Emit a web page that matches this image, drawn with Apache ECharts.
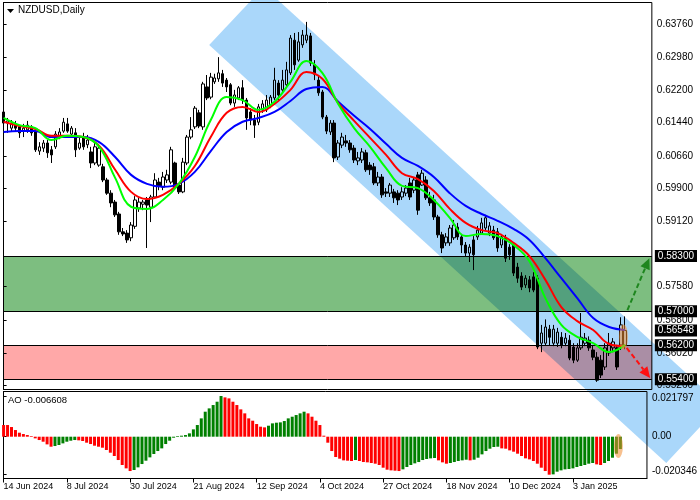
<!DOCTYPE html>
<html><head><meta charset="utf-8">
<script src="https://cdn.jsdelivr.net/npm/echarts@6/dist/echarts.min.js"></script>
<style>html,body{margin:0;padding:0;background:#fff}#c{width:700px;height:500px}</style>
</head><body><div id="c"></div>
<script>
// ---------- data ----------
const dateTickIdx = [0,16,32,48,64,80,96,112,128,144];
const dateLabels = ['14 Jun 2024','8 Jul 2024','30 Jul 2024','21 Aug 2024','12 Sep 2024','4 Oct 2024','27 Oct 2024','18 Nov 2024','10 Dec 2024','3 Jan 2025'];
const priceTicks = [0.6376,0.6298,0.6220,0.6144,0.6066,0.5990,0.5912,0.5758,0.5680,0.5602,0.5526];
const levelLines = [0.583,0.570,0.562,0.554];
const levelLabels = [0.583,0.570,0.56548,0.562,0.554];
const greenZone = [0.570,0.583];
const redZone = [0.554,0.562];
const aoTicks = [0.021797,0,-0.020346];
const aoName = 'AO -0.006608';
const title = 'NZDUSD,Daily';

// [open, close, low, high]
const candles = [
[0.6169,0.6143,0.6138,0.6174],[0.6143,0.6148,0.6120,0.6155],[0.6131,0.6143,0.6122,0.6150],[0.6141,0.6131,0.6124,0.6148],
[0.6134,0.6120,0.6108,0.6138],[0.6124,0.6131,0.6110,0.6141],[0.6127,0.6138,0.6120,0.6148],[0.6134,0.6120,0.6113,0.6138],
[0.6122,0.6080,0.6075,0.6131],[0.6077,0.6087,0.6068,0.6098],[0.6084,0.6096,0.6075,0.6103],[0.6096,0.6073,0.6061,0.6103],
[0.6080,0.6068,0.6049,0.6089],[0.6087,0.6117,0.6082,0.6124],[0.6110,0.6122,0.6105,0.6131],[0.6124,0.6145,0.6120,0.6155],
[0.6141,0.6124,0.6120,0.6155],[0.6117,0.6131,0.6110,0.6136],[0.6120,0.6080,0.6063,0.6131],[0.6084,0.6096,0.6080,0.6108],
[0.6110,0.6087,0.6080,0.6120],[0.6092,0.6103,0.6084,0.6115],[0.6075,0.6049,0.6037,0.6087],[0.6049,0.6087,0.6044,0.6098],
[0.6044,0.6084,0.6040,0.6094],[0.6040,0.6009,0.6004,0.6047],[0.6009,0.5978,0.5974,0.6014],[0.5978,0.5955,0.5945,0.5985],
[0.5957,0.5927,0.5922,0.5962],[0.5929,0.5887,0.5880,0.5934],[0.5887,0.5882,0.5877,0.5896],[0.5884,0.5868,0.5861,0.5891],
[0.5873,0.5903,0.5865,0.5910],[0.5900,0.5962,0.5894,0.5971],[0.5943,0.5957,0.5934,0.5967],[0.5952,0.5957,0.5938,0.5962],
[0.5962,0.5950,0.5849,0.5969],[0.5945,0.5969,0.5910,0.5974],[0.5969,0.6009,0.5967,0.6025],[0.6004,0.5995,0.5985,0.6014],
[0.5992,0.6016,0.5985,0.6028],[0.6009,0.6021,0.6002,0.6033],[0.6004,0.6080,0.5999,0.6087],[0.6049,0.5992,0.5988,0.6052],
[0.5997,0.5981,0.5976,0.6002],[0.5981,0.6051,0.5978,0.6061],[0.6049,0.6110,0.6044,0.6115],[0.6110,0.6127,0.6105,0.6157],
[0.6134,0.6178,0.6129,0.6183],[0.6167,0.6136,0.6131,0.6174],[0.6134,0.6235,0.6127,0.6240],[0.6228,0.6202,0.6197,0.6256],
[0.6204,0.6251,0.6199,0.6261],[0.6240,0.6249,0.6235,0.6259],[0.6247,0.6261,0.6240,0.6298],[0.6259,0.6237,0.6228,0.6268],
[0.6244,0.6228,0.6216,0.6249],[0.6233,0.6190,0.6185,0.6237],[0.6190,0.6209,0.6181,0.6221],[0.6202,0.6226,0.6197,0.6230],
[0.6226,0.6197,0.6188,0.6244],[0.6197,0.6155,0.6127,0.6202],[0.6169,0.6150,0.6138,0.6178],[0.6150,0.6138,0.6108,0.6162],
[0.6145,0.6181,0.6138,0.6188],[0.6174,0.6188,0.6167,0.6197],[0.6174,0.6197,0.6169,0.6209],[0.6183,0.6204,0.6178,0.6209],
[0.6202,0.6244,0.6197,0.6273],[0.6237,0.6209,0.6197,0.6244],[0.6221,0.6244,0.6214,0.6268],[0.6233,0.6268,0.6226,0.6287],
[0.6261,0.6343,0.6256,0.6350],[0.6338,0.6280,0.6268,0.6355],[0.6291,0.6334,0.6287,0.6357],[0.6327,0.6350,0.6320,0.6362],
[0.6338,0.6350,0.6331,0.6381],[0.6348,0.6284,0.6277,0.6355],[0.6280,0.6258,0.6244,0.6291],[0.6244,0.6214,0.6207,0.6254],
[0.6216,0.6157,0.6152,0.6221],[0.6157,0.6124,0.6117,0.6162],[0.6122,0.6143,0.6115,0.6150],[0.6143,0.6061,0.6051,0.6150],
[0.6063,0.6096,0.6056,0.6103],[0.6091,0.6110,0.6084,0.6120],[0.6101,0.6096,0.6087,0.6115],[0.6096,0.6080,0.6073,0.6103],
[0.6084,0.6056,0.6049,0.6091],[0.6054,0.6061,0.6044,0.6075],[0.6056,0.6075,0.6049,0.6084],[0.6073,0.6033,0.6028,0.6080],
[0.6044,0.6033,0.6021,0.6051],[0.6040,0.6002,0.5997,0.6049],[0.6002,0.6016,0.5995,0.6028],[0.6016,0.5974,0.5967,0.6023],
[0.5981,0.5978,0.5969,0.5990],[0.5978,0.5997,0.5969,0.6002],[0.5981,0.5967,0.5955,0.5988],[0.5978,0.5962,0.5950,0.5985],
[0.5969,0.5981,0.5962,0.5992],[0.5978,0.5990,0.5971,0.5997],[0.6002,0.5969,0.5962,0.6014],[0.5985,0.6009,0.5978,0.6014],
[0.6021,0.5938,0.5927,0.6028],[0.5997,0.6025,0.5995,0.6033],[0.6009,0.5967,0.5962,0.6018],[0.5967,0.5955,0.5948,0.5981],
[0.5962,0.5922,0.5915,0.5974],[0.5922,0.5880,0.5873,0.5927],[0.5880,0.5849,0.5837,0.5887],[0.5861,0.5875,0.5854,0.5884],
[0.5861,0.5896,0.5854,0.5903],[0.5873,0.5903,0.5868,0.5915],[0.5898,0.5875,0.5868,0.5908],[0.5875,0.5856,0.5837,0.5882],
[0.5856,0.5837,0.5828,0.5863],[0.5837,0.5851,0.5816,0.5858],[0.5868,0.5833,0.5797,0.5877],[0.5875,0.5891,0.5868,0.5901],
[0.5884,0.5908,0.5880,0.5920],[0.5896,0.5920,0.5891,0.5927],[0.5884,0.5901,0.5877,0.5910],[0.5891,0.5873,0.5868,0.5901],
[0.5887,0.5849,0.5840,0.5896],[0.5856,0.5875,0.5849,0.5882],[0.5873,0.5825,0.5816,0.5880],[0.5851,0.5833,0.5821,0.5858],
[0.5856,0.5790,0.5783,0.5861],[0.5804,0.5778,0.5767,0.5814],[0.5783,0.5757,0.5750,0.5792],[0.5762,0.5778,0.5755,0.5785],
[0.5774,0.5755,0.5745,0.5783],[0.5781,0.5750,0.5745,0.5792],[0.5778,0.5616,0.5611,0.5785],[0.5625,0.5649,0.5604,0.5668],
[0.5625,0.5663,0.5620,0.5681],[0.5658,0.5639,0.5620,0.5668],[0.5625,0.5658,0.5618,0.5668],[0.5625,0.5651,0.5616,0.5661],
[0.5639,0.5621,0.5613,0.5651],[0.5625,0.5637,0.5618,0.5649],[0.5632,0.5590,0.5585,0.5644],[0.5616,0.5585,0.5578,0.5625],
[0.5585,0.5614,0.5581,0.5625],[0.5614,0.5639,0.5609,0.5696],[0.5625,0.5637,0.5618,0.5649],[0.5632,0.5614,0.5607,0.5641],
[0.5609,0.5592,0.5585,0.5621],[0.5592,0.5538,0.5534,0.5604],[0.5585,0.5550,0.5543,0.5597],[0.5569,0.5614,0.5562,0.5625],
[0.5602,0.5625,0.5595,0.5649],[0.5614,0.5628,0.5604,0.5637],[0.5614,0.5569,0.5562,0.5621],[0.5621,0.5668,0.5609,0.5686],
[0.5620,0.56548,0.5611,0.5688]
];

// moving averages, read every 4th bar
const maIdx = [0,4,8,12,16,20,24,28,32,36,40,44,48,52,56,60,64,68,72,76,80,84,88,92,96,100,104,108,112,116,120,124,128,132,136,140,144,148,152,156];
const maFast = [0.6155,0.6138,0.6131,0.6103,0.6113,0.6110,0.6087,0.6014,0.5946,0.5941,0.5962,0.6000,0.6063,0.6150,0.6204,0.6197,0.6174,0.6193,0.6240,0.6289,0.6261,0.6188,0.6131,0.6087,0.6037,0.5995,0.5990,0.5962,0.5920,0.5877,0.5882,0.5877,0.5856,0.5818,0.5731,0.5668,0.5640,0.5625,0.5604,0.5621];
const maMid = [0.6146,0.6136,0.6129,0.6113,0.6113,0.6110,0.6089,0.6033,0.5981,0.5964,0.5974,0.6000,0.6042,0.6110,0.6167,0.6181,0.6169,0.6188,0.6221,0.6263,0.6247,0.6190,0.6148,0.6108,0.6068,0.6025,0.6011,0.5983,0.5941,0.5908,0.5891,0.5884,0.5861,0.5830,0.5774,0.5710,0.5677,0.5656,0.5623,0.5618];
const maSlow = [0.6122,0.6124,0.6124,0.6110,0.6110,0.6110,0.6098,0.6063,0.6021,0.6000,0.5993,0.6000,0.6028,0.6077,0.6122,0.6146,0.6155,0.6169,0.6195,0.6223,0.6228,0.6193,0.6160,0.6129,0.6094,0.6061,0.6042,0.6016,0.5978,0.5948,0.5929,0.5913,0.5894,0.5868,0.5825,0.5778,0.5731,0.5684,0.5663,0.5656];

const ao = [
0.00625,0.00625,0.00518,0.00357,0.00214,0.00143,0.00089,0.00036,-0.00089,-0.00179,
-0.00268,-0.00411,-0.00536,-0.00500,-0.00446,-0.00357,-0.00268,-0.00214,-0.00179,-0.00196,
-0.00232,-0.00321,-0.00393,-0.00482,-0.00536,-0.00589,-0.00714,-0.00857,-0.01035,-0.01250,
-0.01517,-0.01696,-0.01839,-0.01785,-0.01642,-0.01464,-0.01285,-0.01107,-0.00928,-0.00768,
-0.00625,-0.00393,-0.00214,-0.00054,0.00036,0.00054,0.00089,0.00179,0.00393,0.00625,
0.00982,0.01339,0.01517,0.01696,0.01874,0.021797,0.02106,0.02053,0.01874,0.01696,
0.01464,0.01250,0.00982,0.00857,0.00678,0.00536,0.00500,0.00589,0.00714,0.00750,
0.00768,0.00839,0.00982,0.01071,0.01160,0.01250,0.01339,0.01250,0.01071,0.00857,
0.00625,0.00054,-0.00321,-0.00768,-0.01089,-0.01178,-0.01267,-0.01285,-0.01303,-0.01250,
-0.01303,-0.01357,-0.01374,-0.01410,-0.01446,-0.01517,-0.01660,-0.01767,-0.01803,-0.01821,
-0.01839,-0.01749,-0.01624,-0.01517,-0.01428,-0.01357,-0.01250,-0.01196,-0.01160,-0.01142,
-0.01267,-0.01374,-0.01446,-0.01410,-0.01357,-0.01303,-0.01267,-0.01232,-0.01267,-0.01232,
-0.01125,-0.00946,-0.00768,-0.00643,-0.00553,-0.00536,-0.00625,-0.00643,-0.00732,-0.00803,
-0.00910,-0.01035,-0.01160,-0.01214,-0.01303,-0.01446,-0.01660,-0.01839,-0.020346,-0.02017,
-0.01874,-0.01803,-0.01749,-0.01731,-0.01696,-0.01624,-0.01571,-0.01517,-0.01446,-0.01410,
-0.01482,-0.01517,-0.01410,-0.01303,-0.01125,-0.00910,-0.006608
];

// drawing objects anchored in (bar index, price)
const channel = [[51.6,0.63266],[65.3,0.64631],[180.05,0.54800],[166.35,0.53431]];
const upArrow = [156.6,0.5703,162.1,0.5825];
const downArrow = [156.4,0.5614,162.3,0.5543];
const markMain = [155.6,0.56396];
const markAO = [155.5,-0.00498];

// ---------- chart ----------
const FONT = '"Liberation Sans", Arial, sans-serif';
const X_MIN = -0.025, X_MAX = 162.725;
const P_MIN = 0.551603, P_MAX = 0.642662;
const A_MIN = -0.022389, A_MAX = 0.024210;

const COL_CH = '#AAD7FA', COL_GZ = '#7DBE80', COL_RZ = '#FFA8A8';
function mult(a, b){
  const pa = [1,3,5].map(i=>parseInt(a.substr(i,2),16));
  const pb = [1,3,5].map(i=>parseInt(b.substr(i,2),16));
  return 'rgb(' + pa.map((v,k)=>Math.round(v*pb[k]/255)).join(',') + ')';
}
// clip a polygon (pixel points) against a rectangle
function clipPoly(pts, x0, x1, y0, y1){
  const edges = [
    [p=>p[0]>=x0, (a,b)=>{const t=(x0-a[0])/(b[0]-a[0]);return [x0,a[1]+t*(b[1]-a[1])];}],
    [p=>p[0]<=x1, (a,b)=>{const t=(x1-a[0])/(b[0]-a[0]);return [x1,a[1]+t*(b[1]-a[1])];}],
    [p=>p[1]>=y0, (a,b)=>{const t=(y0-a[1])/(b[1]-a[1]);return [a[0]+t*(b[0]-a[0]),y0];}],
    [p=>p[1]<=y1, (a,b)=>{const t=(y1-a[1])/(b[1]-a[1]);return [a[0]+t*(b[0]-a[0]),y1];}]
  ];
  let out = pts;
  for (const [inside, inter] of edges){
    const inp = out; out = [];
    for (let i=0;i<inp.length;i++){
      const cur = inp[i], prev = inp[(i+inp.length-1)%inp.length];
      if (inside(cur)){ if (!inside(prev)) out.push(inter(prev,cur)); out.push(cur); }
      else if (inside(prev)) out.push(inter(prev,cur));
    }
    if (!out.length) break;
  }
  return out;
}

const chart = echarts.init(document.getElementById('c'), null, {renderer:'canvas'});

function arrowSeries(a, color){
  return {
    type:'custom', xAxisIndex:0, yAxisIndex:0, z:8, clip:false, silent:true,
    data:[a],
    renderItem(params, api){
      const p1 = api.coord([api.value(0), api.value(1)]);
      const p2 = api.coord([api.value(2), api.value(3)]);
      const dx = p2[0]-p1[0], dy = p2[1]-p1[1];
      const L = Math.sqrt(dx*dx+dy*dy), ux = dx/L, uy = dy/L;
      const hl = 11, hw = 5;
      const bx = p2[0]-ux*hl, by = p2[1]-uy*hl;
      return {type:'group', children:[
        {type:'line', shape:{x1:p1[0], y1:p1[1], x2:bx, y2:by},
         style:{stroke:color, lineWidth:2, lineDash:[5,3]}},
        {type:'polygon', shape:{points:[[p2[0],p2[1]],[bx-uy*hw, by+ux*hw],[bx+uy*hw, by-ux*hw]]},
         style:{fill:color}}
      ]};
    }
  };
}
function markSeries(m, xi, yi, rx, ry){
  return {
    type:'custom', xAxisIndex:xi, yAxisIndex:yi, z:9, clip:false, silent:true,
    data:[m],
    renderItem(params, api){
      const c = api.coord([api.value(0), api.value(1)]);
      return {type:'circle', x:c[0], y:c[1], scaleX:rx, scaleY:ry, shape:{cx:0, cy:0, r:1},
              style:{fill:'rgba(240,140,50,0.55)'}};
    }
  };
}

const option = {
  backgroundColor:'#ffffff',
  animation:false,
  textStyle:{fontFamily:FONT},
  grid:[
    {left:3.5, width:651, top:2.5, height:387, show:true, borderColor:'#000', borderWidth:1, backgroundColor:'transparent', z:3},
    {left:3.5, width:651, top:391.5, height:87, show:true, borderColor:'#000', borderWidth:1, backgroundColor:'transparent', z:3}
  ],
  xAxis:[
    {gridIndex:0, type:'value', min:X_MIN, max:X_MAX, show:false, splitLine:{show:false}},
    {gridIndex:1, type:'value', min:X_MIN, max:X_MAX, position:'bottom', z:3,
     splitLine:{show:false},
     axisLine:{show:true, onZero:false, lineStyle:{color:'#000', width:1}},
     axisTick:{show:true, inside:false, length:4, customValues:dateTickIdx, lineStyle:{color:'#000'}},
     axisLabel:{show:true, customValues:dateTickIdx, align:'left', margin:4, fontSize:9, color:'#000', fontFamily:FONT,
       formatter:v => dateLabels[dateTickIdx.indexOf(Math.round(v))]}}
  ],
  yAxis:[
    {gridIndex:0, type:'value', position:'right', min:P_MIN, max:P_MAX, splitLine:{show:false}, z:3,
     axisLine:{show:true, lineStyle:{color:'#000'}},
     axisTick:{show:true, inside:false, length:3, customValues:priceTicks, lineStyle:{color:'#000'}},
     axisLabel:{customValues:priceTicks, margin:5, fontSize:10, color:'#000', fontFamily:FONT,
       formatter:v => v.toFixed(5)}},
    {gridIndex:0, type:'value', position:'right', min:P_MIN, max:P_MAX, splitLine:{show:false}, z:4,
     axisLine:{show:false}, axisTick:{show:false},
     axisLabel:{customValues:levelLabels, margin:3, fontSize:10, color:'#fff', backgroundColor:'#000',
       padding:[1,3,1,3], fontFamily:FONT, formatter:v => v.toFixed(5)}},
    {gridIndex:1, type:'value', position:'right', min:A_MIN, max:A_MAX, splitLine:{show:false}, z:3,
     axisLine:{show:true, lineStyle:{color:'#000'}},
     axisTick:{show:true, inside:false, length:3, customValues:aoTicks, lineStyle:{color:'#000'}},
     axisLabel:{customValues:aoTicks, margin:5, fontSize:10, color:'#000', fontFamily:FONT,
       formatter:v => {
         if (v === 0) return '0.00';
         const s = String(v);
         return v > 0 ? '{t|' + s + '}' : '{b|' + s + '}';
       },
       rich:{t:{fontSize:10, padding:[4,0,0,0], fontFamily:FONT, color:'#000'},
             b:{fontSize:10, padding:[0,0,6,0], fontFamily:FONT, color:'#000'}}}}
  ],
  graphic:[
    {type:'polygon', shape:{points:[[7,9],[14,9],[10.5,13]]}, style:{fill:'#000'}, z:100},
    {type:'text', left:18, top:5, style:{text:title, fontSize:10, fill:'#000', fontFamily:FONT}, z:100},
    {type:'text', left:8, top:395, style:{text:aoName, fontSize:9.5, fill:'#000', fontFamily:FONT}, z:100}
  ],
  series:[
    // background drawing objects: channel and zones (with multiplied overlaps) and level lines
    {type:'custom', xAxisIndex:0, yAxisIndex:0, z:1, clip:false, silent:true,
     data:[channel.flat()],
     renderItem(params, api){
       const cs = params.coordSys;
       const pts = [];
       for (let k=0;k<4;k++) pts.push(api.coord([api.value(2*k), api.value(2*k+1)]));
       const x0 = cs.x, x1 = cs.x + cs.width;
       const band = z => [api.coord([0, z[1]])[1], api.coord([0, z[0]])[1]];
       const g = band(greenZone), r = band(redZone);
       const children = [
         {type:'polygon', shape:{points:pts}, style:{fill:COL_CH}},
         {type:'rect', shape:{x:x0, y:g[0], width:cs.width, height:g[1]-g[0]}, style:{fill:COL_GZ}},
         {type:'rect', shape:{x:x0, y:r[0], width:cs.width, height:r[1]-r[0]}, style:{fill:COL_RZ}},
         {type:'polygon', shape:{points:clipPoly(pts, x0, x1, g[0], g[1])}, style:{fill:mult(COL_CH, COL_GZ)}},
         {type:'polygon', shape:{points:clipPoly(pts, x0, x1, r[0], r[1])}, style:{fill:mult(COL_CH, COL_RZ)}}
       ];
       levelLines.forEach(v => {
         const y = Math.round(api.coord([0, v])[1]) + 0.5;
         children.push({type:'line', shape:{x1:x0, y1:y, x2:x1, y2:y}, style:{stroke:'#000', lineWidth:1}});
       });
       return {type:'group', children};
     }},
    {type:'candlestick', xAxisIndex:0, yAxisIndex:0, z:5, barWidth:3,
     encode:{x:0, y:[1,2,3,4]},
     data:candles.map((c,i)=>[i, c[0], c[1], c[2], c[3]]),
     itemStyle:{color:'rgba(255,255,255,0)', color0:'#000', borderColor:'#000', borderColor0:'#000', borderWidth:1}},
    {type:'line', xAxisIndex:0, yAxisIndex:0, z:6, showSymbol:false, smooth:0.4,
     data:maIdx.map((x,k)=>[x, maSlow[k]]), lineStyle:{color:'#0000ff', width:2}},
    {type:'line', xAxisIndex:0, yAxisIndex:0, z:6, showSymbol:false, smooth:0.4,
     data:maIdx.map((x,k)=>[x, maMid[k]]), lineStyle:{color:'#ff0000', width:2}},
    {type:'line', xAxisIndex:0, yAxisIndex:0, z:6, showSymbol:false, smooth:0.4,
     data:maIdx.map((x,k)=>[x, maFast[k]]), lineStyle:{color:'#00ff00', width:2}},
    {type:'bar', xAxisIndex:1, yAxisIndex:2, z:5, barWidth:3,
     data:ao.map((v,i)=>[i, v]),
     itemStyle:{color:p => (p.dataIndex > 0 && ao[p.dataIndex] > ao[p.dataIndex-1]) ? '#008000' : '#ff0000'}},
    arrowSeries(upArrow, '#1E861E'),
    arrowSeries(downArrow, '#FF1010'),
    markSeries(markMain, 0, 0, 4.5, 12.5),
    markSeries(markAO, 1, 2, 4.5, 12)
  ]
};
chart.setOption(option);
</script>
</body></html>
